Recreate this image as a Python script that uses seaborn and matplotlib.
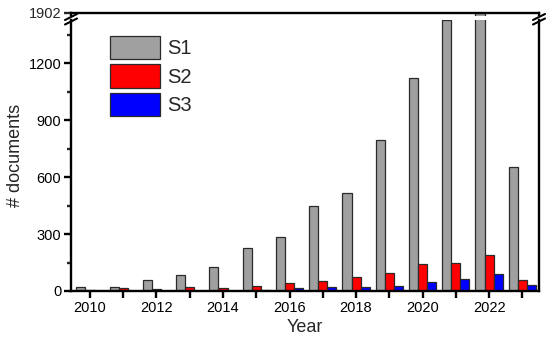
import numpy as np
import pandas as pd
import matplotlib
matplotlib.use("Agg")
import matplotlib.pyplot as plt
import matplotlib.patches as mpatches
from matplotlib.lines import Line2D
from matplotlib.ticker import MultipleLocator
import seaborn as sns

years = list(range(2010, 2024))
s1 = [23, 21, 60, 84, 128, 225, 286, 449, 517, 795, 1121, 1426, 1902, 653]
s2 = [5, 14, 12, 23, 14, 25, 42, 53, 74, 93, 144, 147, 189, 56]
s3 = [2, 1, 1, 1, 2, 3, 14, 23, 23, 25, 47, 65, 88, 32]
series_names = ["S1", "S2", "S3"]
colors = ["#A0A0A0", "#FF0000", "#0000FF"]
ytick_vals = [0, 300, 600, 900, 1200]
top_label = 1902

df = pd.DataFrame({
    "Year": years * 3,
    "Count": s1 + s2 + s3,
    "Series": ["S1"] * len(years) + ["S2"] * len(years) + ["S3"] * len(years),
})

sns.set_theme(style="ticks")
plt.rcParams["font.family"] = ["Liberation Sans", "DejaVu Sans"]

W, H = 550, 349
fig = plt.figure(figsize=(W / 100, H / 100), dpi=100)

def frac(l, r, t, b):
    return [l / W, (H - b) / H, (r - l) / W, (b - t) / H]

L, R = 71, 539
ax = fig.add_axes(frac(L, R, 20, 291))
axt = fig.add_axes(frac(L, R, 13, 15.5))

for a in (ax, axt):
    sns.barplot(data=df, x="Year", y="Count", hue="Series", native_scale=True,
                palette=colors, width=0.82, edgecolor="#2a2a2a", linewidth=0.9,
                saturation=1, errorbar=None, legend=False, ax=a)
    a.set_xlim(2009.43, 2023.5)
    a.set_xlabel("")
    a.set_ylabel("")

lw = 1.7
ax.set_ylim(0, (291 - 20) / (291 - 63.3) * 1200)
ax.set_yticks(ytick_vals)
ax.set_yticklabels([str(v) for v in ytick_vals])
ax.yaxis.set_minor_locator(MultipleLocator(150))
ax.set_xticks(years)
ax.set_xticklabels([str(y) if y % 2 == 0 else "" for y in years])
ax.tick_params(axis="both", which="major", direction="out", length=5, width=lw,
               labelsize=10.5, colors="black", pad=2)
ax.tick_params(axis="y", which="minor", direction="out", length=3, width=lw)
ax.spines["top"].set_visible(False)
for s in ("left", "right", "bottom"):
    ax.spines[s].set_linewidth(lw)
    ax.spines[s].set_color("black")

axt.set_ylim(1880, top_label)
axt.set_yticks([top_label])
axt.set_yticklabels([str(top_label)])
axt.set_xticks([])
axt.tick_params(axis="y", direction="out", length=5, width=lw, labelsize=10.5, pad=2)
axt.spines["bottom"].set_visible(False)
for s in ("left", "right", "top"):
    axt.spines[s].set_linewidth(lw)
    axt.spines[s].set_color("black")
axt.patch.set_alpha(0)

ax.set_xlabel("Year", fontsize=13, labelpad=3)
ax.set_ylabel("# documents", fontsize=13, labelpad=3)

# break marks
def px(x, y):
    return (x / W, (H - y) / H)

for xc in (L, R):
    for dy in (0, 4.5):
        x0, y0 = px(xc - 6, 20 + dy)
        x1, y1 = px(xc + 6, 14 + dy)
        fig.add_artist(Line2D([x0, x1], [y0, y1], color="black", lw=1.5,
                              transform=fig.transFigure))

handles = [mpatches.Patch(facecolor=c, edgecolor="#2a2a2a", linewidth=0.9, label=n)
           for c, n in zip(colors, series_names)]
ax.legend(handles=handles, loc="upper left",
          bbox_to_anchor=((110 - L) / (R - L), (291 - 36) / (291 - 20)),
          frameon=False, fontsize=14.5, handlelength=2.5, handleheight=1.4,
          labelspacing=0.25, handletextpad=0.35, borderaxespad=0, borderpad=0)

fig.savefig("out.png", dpi=100)
